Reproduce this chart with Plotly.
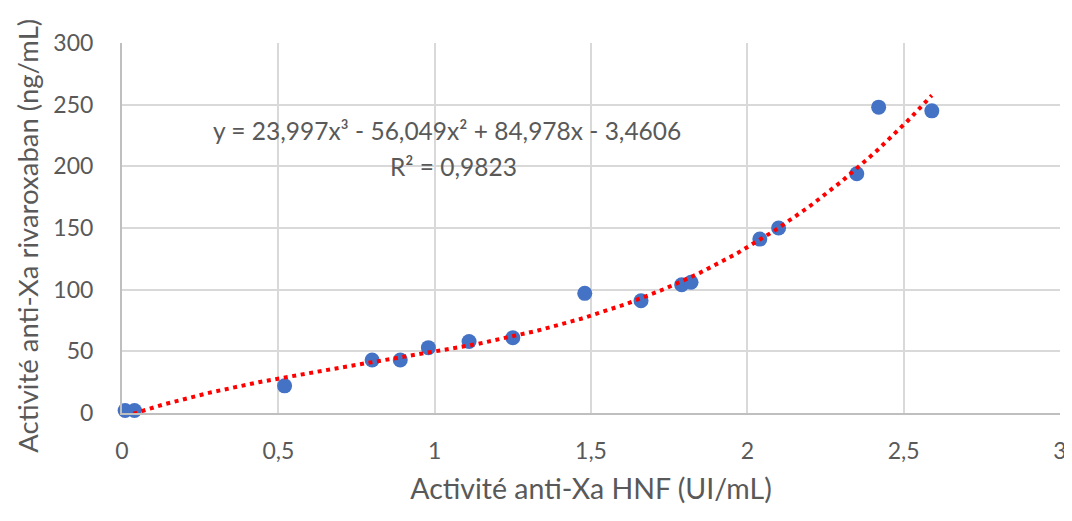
import numpy as np
import plotly.graph_objects as go

# anti-Xa HNF activity (UI/mL) vs rivaroxaban (ng/mL)
hnf = [0.01, 0.04, 0.52, 0.80, 0.89, 0.98, 1.11, 1.25, 1.48, 1.66, 1.79, 1.82,
       2.04, 2.10, 2.35, 2.42, 2.59]
riva = [2, 2, 22, 43, 43, 53, 58, 61, 97, 91, 104, 106, 141, 150, 194, 248, 245]

# polynomial trendline as printed on the chart (highest power first)
coefs = [23.997, -56.049, 84.978, -3.4606]
equation = "y = 23,997x³ - 56,049x² + 84,978x - 3,4606"
r2_text = "R² = 0,9823"

x_ticks = [0, 0.5, 1, 1.5, 2, 2.5, 3]
x_labels = ["0", "0,5", "1", "1,5", "2", "2,5", "3"]
y_ticks = [0, 50, 100, 150, 200, 250, 300]

font_name = "Lato, Carlito, Calibri, sans-serif"
txt_col = "#595959"

xs = np.linspace(min(hnf), max(hnf), 300)
ys = np.polyval(coefs, xs)

fig = go.Figure()

fig.add_trace(go.Scatter(
    x=hnf, y=riva,
    mode="markers",
    marker=dict(size=15, color="#4472C4"),
    cliponaxis=False,
    hoverinfo="x+y"
))

fig.add_trace(go.Scatter(
    x=xs, y=ys,
    mode="lines",
    line=dict(color="#FF0000", width=4, dash="4px,4.6px"),
    hoverinfo="skip"
))

fig.add_annotation(x=1.04, y=229, xref="x", yref="y", text=equation,
                   showarrow=False, font=dict(size=24.5, color=txt_col, family=font_name))
fig.add_annotation(x=1.06, y=200, xref="x", yref="y", text=r2_text,
                   showarrow=False, font=dict(size=24.5, color=txt_col, family=font_name))

# y axis title as an annotation so it can sit a little below the plot centre
fig.add_annotation(x=-0.101, y=0.48, xref="paper", yref="paper",
                   xanchor="center", yanchor="middle",
                   text="Activité anti-Xa rivaroxaban (ng/mL)", textangle=-90,
                   showarrow=False, font=dict(size=27.5, color=txt_col, family=font_name))

# page body has an 8px margin, so the figure is a bit smaller than the window
fig.update_layout(
    width=1064, height=505,
    margin=dict(l=114, r=12, t=35, b=100),
    plot_bgcolor="white",
    paper_bgcolor="white",
    showlegend=False,
    font=dict(family=font_name, size=23, color=txt_col),
)

fig.update_xaxes(
    range=[0, 3],
    tickvals=x_ticks, ticktext=x_labels,
    showgrid=True, gridcolor="#D9D9D9", gridwidth=2,
    zeroline=False, automargin=False,
    showline=True, linecolor="#BFBFBF", linewidth=2,
    ticks="", ticklabelstandoff=16,
    title=dict(text="Activité anti-Xa HNF (UI/mL)", standoff=16,
               font=dict(size=28.5, color=txt_col)),
)
fig.update_yaxes(
    range=[0, 300],
    tickvals=y_ticks,
    showgrid=True, gridcolor="#D9D9D9", gridwidth=2,
    zeroline=False, automargin=False,
    showline=True, linecolor="#BFBFBF", linewidth=2,
    ticks="", ticklabelstandoff=22,
)

fig.write_html("out.html")
